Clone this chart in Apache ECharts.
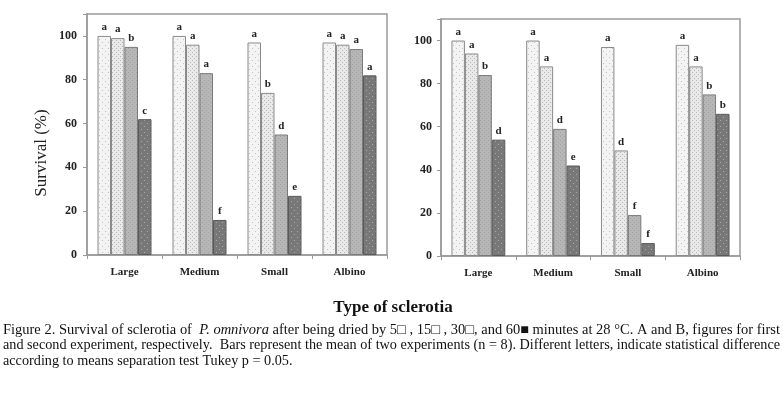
<!DOCTYPE html>
<html>
<head>
<meta charset="utf-8">
<script src="https://cdn.jsdelivr.net/npm/echarts@6/dist/echarts.min.js"></script>
<style>
  html, body { margin: 0; padding: 0; background: #fff; }
  #main { width: 783px; height: 393px; }
</style>
</head>
<body>
<div id="main"></div>
<script>
// sclerotia types
const categories = ['Large', 'Medium', 'Small', 'Albino'];
const yTicks = [0, 20, 40, 60, 80, 100];

// experiment A (left panel), survival % after 5, 15, 30, 60 min
const a5 = [100, 100, 97, 97];
const a15 = [99, 96, 74, 96];
const a30 = [95, 83, 55, 94];
const a60 = [62, 16, 27, 82];
const a5Letters = ['a', 'a', 'a', 'a'];
const a15Letters = ['a', 'a', 'b', 'a'];
const a30Letters = ['b', 'a', 'd', 'a'];
const a60Letters = ['c', 'f', 'e', 'a'];

// experiment B (right panel)
const b5 = [100, 100, 97, 98];
const b15 = [94, 88, 49, 88];
const b30 = [84, 59, 19, 75];
const b60 = [54, 42, 6, 66];
const b5Letters = ['a', 'a', 'a', 'a'];
const b15Letters = ['a', 'a', 'd', 'a'];
const b30Letters = ['b', 'd', 'f', 'b'];
const b60Letters = ['d', 'e', 'f', 'b'];

const serif = '"Liberation Serif", "DejaVu Serif", serif';

// dotted fills, roughly like the scanned hatching
function pattern(bg, dot, step) {
  const c = document.createElement('canvas');
  c.width = step * 2; c.height = step * 2;
  const g = c.getContext('2d');
  g.fillStyle = bg; g.fillRect(0, 0, c.width, c.height);
  g.fillStyle = dot;
  g.fillRect(0, 0, 1, 1);
  g.fillRect(step, step, 1, 1);
  return { image: c, repeat: 'repeat' };
}
const fills = [
  pattern('#f3f3f3', '#c4c4c4', 3),
  pattern('#e9e9e9', '#b8b8b8', 2),
  pattern('#b6b6b6', '#a4a4a4', 2),
  pattern('#787878', '#a8a8a8', 3)
];
const borders = ['#8a8a8a', '#8a8a8a', '#7a7a7a', '#5a5a5a'];

function bars(idx, values, letters, k) {
  return {
    type: 'bar', xAxisIndex: idx, yAxisIndex: idx,
    data: values,
    barGap: '0%', barCategoryGap: '28%',
    itemStyle: { color: fills[k], borderColor: borders[k], borderWidth: 1 },
    label: {
      show: true, position: 'top', distance: 3,
      fontFamily: serif, fontWeight: 'bold', fontSize: 11, color: '#222',
      formatter: p => letters[p.dataIndex]
    },
    animation: false
  };
}

const axisGray = '#9a9a9a';
function xAx(idx) {
  return {
    type: 'category', gridIndex: idx, data: categories,
    axisLine: { lineStyle: { color: axisGray, width: 1.5 } },
    axisTick: { show: true, length: 4, lineStyle: { color: axisGray } },
    axisLabel: { margin: 12, fontFamily: serif, fontWeight: 'bold', fontSize: 11, color: '#222' }
  };
}
function yAx(idx, margin) {
  return {
    type: 'value', gridIndex: idx, min: 0, max: 110, interval: 20,
    axisLine: { show: true, lineStyle: { color: axisGray, width: 1.5 } },
    axisTick: { show: true, length: 4, lineStyle: { color: axisGray } },
    splitLine: { show: false },
    axisLabel: {
      margin, fontFamily: serif, fontWeight: 'bold', fontSize: 12, color: '#222',
      formatter: v => (yTicks.includes(v) ? String(v) : '')
    }
  };
}

// caption, squeezed to the justified width of the scan
const capSize = 14;
const capLines = [
  [['Figure 2. Survival of sclerotia of  ', 0], ['P. omnivora', 1], [' after being dried by 5\u25A1 , 15\u25A1 , 30\u25A1, and 60\u25A0 minutes at 28 \u00B0C. A and B, figures for first', 0]],
  [['and second experiment, respectively.  Bars represent the mean of two experiments (n = 8). Different letters, indicate statistical difference', 0]],
  [['according to means separation test Tukey p = 0.05.', 0]]
];
const ctx = document.createElement('canvas').getContext('2d');
function lineWidth(parts) {
  let w = 0;
  parts.forEach(p => {
    ctx.font = (p[1] ? 'italic ' : '') + capSize + 'px ' + serif;
    w += ctx.measureText(p[0]).width;
  });
  return w;
}
const s1 = 777 / lineWidth(capLines[0]);
const s2 = 777 / lineWidth(capLines[1]);
const capScales = [s1, s2, s2];
const capY = [331, 346.5, 362];
const captionGraphics = capLines.map((parts, i) => ({
  type: 'text', left: 3, top: capY[i] - 8,
  scaleX: capScales[i], originX: 0,
  style: {
    text: parts.map(p => (p[1] ? '{i|' : '{n|') + p[0] + '}').join(''),
    rich: {
      n: { fontFamily: serif, fontSize: capSize, fill: '#111' },
      i: { fontFamily: serif, fontSize: capSize, fontStyle: 'italic', fill: '#111' }
    }
  }
}));

const chart = echarts.init(document.getElementById('main'));
chart.setOption({
  backgroundColor: '#fff',
  animation: false,
  grid: [
    { left: 87, top: 14, width: 300, height: 241, show: true, borderColor: axisGray, borderWidth: 1.5 },
    { left: 441, top: 19, width: 299, height: 237, show: true, borderColor: axisGray, borderWidth: 1.5 }
  ],
  xAxis: [xAx(0), xAx(1)],
  yAxis: [yAx(0, 10), yAx(1, 9)],
  series: [
    bars(0, a5, a5Letters, 0), bars(0, a15, a15Letters, 1), bars(0, a30, a30Letters, 2), bars(0, a60, a60Letters, 3),
    bars(1, b5, b5Letters, 0), bars(1, b15, b15Letters, 1), bars(1, b30, b30Letters, 2), bars(1, b60, b60Letters, 3)
  ],
  graphic: [
    {
      type: 'text', x: 42, y: 153, rotation: Math.PI / 2,
      style: { text: 'Survival (%)', fontFamily: serif, fontSize: 17, fill: '#222', align: 'center', verticalAlign: 'middle' }
    },
    {
      type: 'text', x: 393, y: 308,
      style: { text: 'Type of sclerotia', fontFamily: serif, fontWeight: 'bold', fontSize: 17, fill: '#111', align: 'center', verticalAlign: 'middle' }
    }
  ].concat(captionGraphics)
});
</script>
</body>
</html>
